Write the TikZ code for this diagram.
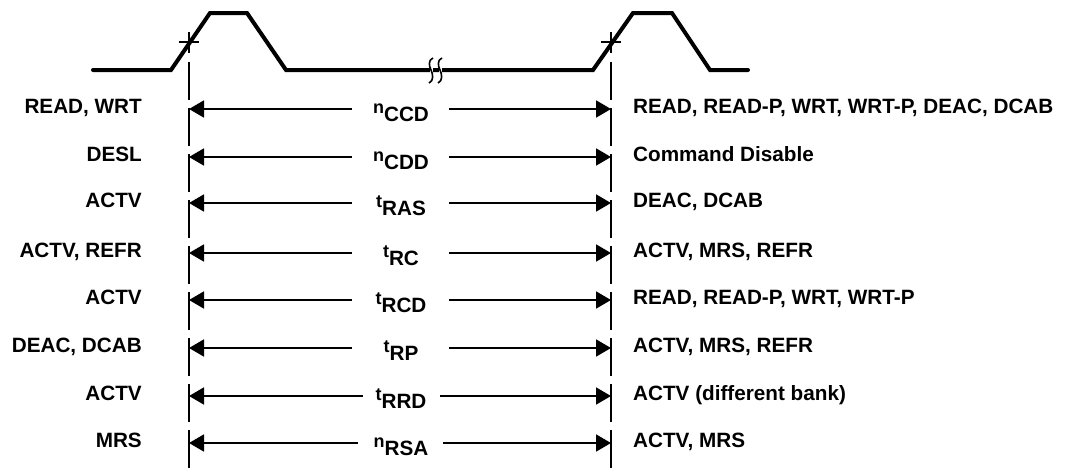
\documentclass[tikz,border=0pt]{standalone}
\usepackage{fontspec}
\setmainfont{Liberation Sans}
\usetikzlibrary{arrows.meta}
\newcommand{\sublab}[2]{{\fontsize{18}{20}\selectfont #1}\raisebox{-8.5pt}{#2}}
\begin{document}
\begin{tikzpicture}[x=1pt,y=-1pt,
  every node/.style={font=\fontsize{20.7}{24}\selectfont\bfseries, inner sep=0pt},
  wave/.style={line width=4pt, line join=miter, line cap=round},
  brk/.style={line width=1.6pt},
  guide/.style={line width=1.8pt, dash pattern=on 38pt off 8pt},
  crossl/.style={line width=1.6pt},
  arr/.style={line width=1.8pt, -{Triangle[length=15pt,width=17pt]}},
  leftlab/.style={anchor=base east},
  rightlab/.style={anchor=base west},
  midlab/.style={anchor=base}]
\useasboundingbox (0,0) rectangle (1078,472);
% waveform
\draw[wave] (93,70) -- (171,70) -- (210,13) -- (247,13) -- (286,70) -- (593,70)
  -- (633,13) -- (672,13) -- (710,70) -- (748,70);
% break marks
\foreach \bx in {431,440}{
  \draw[brk, white, line width=3pt] (\bx,64) -- (\bx,76);
  \draw[brk] (\bx+2,58) .. controls (\bx-3,60) and (\bx-2,66) .. (\bx,70)
     .. controls (\bx+2,74) and (\bx+3,81) .. (\bx-2,83);
}
% reference lines
\coordinate (gl) at (189,62);
\coordinate (gr) at (611,62);
\draw[crossl] (179,42) -- (199,42);
\draw[crossl] (189,32) -- (189,53);
\draw[crossl] (601,42) -- (621,42);
\draw[crossl] (611,32) -- (611,53);
\draw[guide] (gl) -- (189,472);
\draw[guide] (gr) -- (611,472);
% rows
\foreach \i/\y/\le/\rs/\lt/\sa/\sb/\rt in {
  1/109/352/449/{READ, WRT}/n/CCD/{READ, READ-P, WRT, WRT-P, DEAC, DCAB},
  2/157/352/449/DESL/n/CDD/{Command Disable},
  3/203/352/449/ACTV/t/RAS/{DEAC, DCAB},
  4/253/352/449/{ACTV, REFR}/t/RC/{ACTV, MRS, REFR},
  5/300/352/449/ACTV/t/RCD/{READ, READ-P, WRT, WRT-P},
  6/348/352/449/{DEAC, DCAB}/t/RP/{ACTV, MRS, REFR},
  7/396/363/440/ACTV/t/RRD/{ACTV (different bank)},
  8/443/358/443/MRS/n/RSA/{ACTV, MRS}}{
  \node[leftlab] (l\i) at (142,\y+4.5) {\lt};
  \node[rightlab] (r\i) at (633,\y+4.5) {\rt};
  \node[midlab] (m\i) at (401,\y+4) {\sublab{\sa}{\sb}};
  \coordinate (a\i) at (189,\y);
  \coordinate (b\i) at (611,\y);
  \coordinate (p\i) at (\le,\y);
  \coordinate (q\i) at (\rs,\y);
  \draw[arr] (p\i) -- (a\i);
  \draw[arr] (q\i) -- (b\i);
}
\end{tikzpicture}
\end{document}
